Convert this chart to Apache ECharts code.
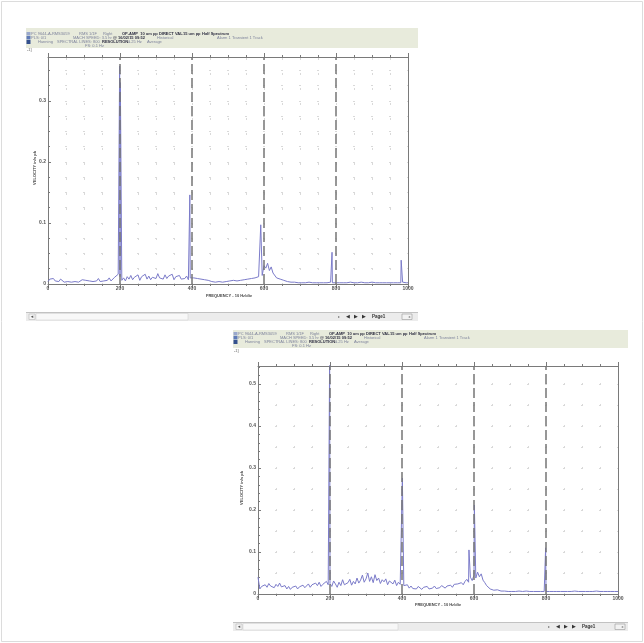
<!DOCTYPE html>
<html><head><meta charset="utf-8">
<script src="https://cdn.jsdelivr.net/npm/echarts@6/dist/echarts.min.js"></script>
<style>html,body{margin:0;padding:0;background:#fff}#c{width:644px;height:643px}</style>
</head><body><div id="c"></div>
<script>
// ---------------- DATA ----------------
const FREQ_STEP = 5; // Hz between noise samples, starting at 0 Hz
const topNoise = [
.004,.008,.006,.009,.005,.007,.004,.008,.006,.003,
.005,.004,.007,.003,.005,.004,.006,.003,.005,.007,
.004,.006,.003,.005,.008,.004,.006,.005,.009,.004,
.007,.005,.008,.006,.010,.005,.008,.011,.009,.016,
.012,
.006,.010,.005,.012,.008,.014,.007,.011,.009,.015,
.006,.012,.010,.016,.008,.013,.007,.011,.014,.009,
.017,.010,.012,.008,.015,.009,.013,.011,.016,.007,
.012,.010,.014,.008,.011,.009,.013,.007,.010,.012,
.010,.007,.009,.006,.008,.005,.007,.004,.006,.005,
.004,.006,.003,.005,.004,.006,.003,.005,.004,.003,
.005,.004,.006,.003,.005,.004,.006,.005,.007,.006,
.008,.006,.009,.007,.010,.008,.012,.009,.014,.030,
.026,.034,.022,.028,.018,.015,.010,.012,.008,.007,
.006,.005,.004,.005,.003,.004,.003,.003,.002,.003,
.002,.003,.002,.002,.003,.002,.002,.003,.002,.002,
.002,.003,.002,.002,.002,.002,.003,.002,.002,.002,
.002,.002,.003,.002,.002,.002,.002,.003,.002,.002,
.002,.002,.002,.003,.002,.002,.002,.002,.002,.003,
.002,.002,.002,.002,.003,.002,.002,.002,.002,.002,
.003,.002,.002,.002,.002,.002,.003,.002,.002,.002
];
const topPeaks = [[199,0.357],[201,0.33],[394,0.146],[591,0.097],[789,0.052],[981,0.039]];

const botNoise = [
.040,.012,.018,.014,.022,.016,.025,.019,.021,.015,
.023,.018,.026,.017,.014,.020,.012,.018,.011,.016,
.013,.019,.012,.017,.014,.021,.015,.019,.024,.016,
.022,.018,.026,.020,.028,.018,.023,.019,.030,.022,
.025,
.018,.031,.024,.016,.028,.020,.034,.022,.019,.027,
.035,.021,.030,.024,.038,.026,.033,.045,.028,.036,
.050,.030,.041,.027,.046,.032,.038,.025,.034,.029,
.036,.022,.031,.027,.024,.033,.020,.028,.023,.026,
.020,.016,.022,.014,.019,.013,.017,.012,.018,.015,
.011,.016,.013,.018,.012,.015,.014,.019,.013,.017,
.015,.020,.016,.014,.019,.017,.021,.016,.023,.019,
.024,.020,.027,.022,.030,.035,.028,.040,.032,.045,
.038,.052,.041,.048,.033,.027,.020,.016,.012,.010,
.009,.008,.010,.008,.007,.008,.007,.007,.006,.007,
.006,.007,.006,.006,.007,.006,.006,.006,.007,.006,
.006,.006,.006,.007,.006,.006,.006,.006,.006,.006,
.006,.006,.007,.006,.006,.006,.006,.006,.007,.006,
.006,.006,.006,.006,.006,.007,.006,.006,.006,.006,
.007,.006,.006,.006,.006,.006,.006,.007,.006,.006,
.006,.006,.006,.006,.007,.006,.006,.006,.006,.006
];
const botPeaks = [[199,0.56],[401,0.276],[586,0.105],[601,0.212],[799,0.11]];

const harmonics = [200,400,600,800];
const xAxisTitle = 'FREQUENCY - 10 Hz/div';
const yAxisTitle = 'VELOCITY in/s pk';
const headerRows = [
  [[5,'PC 9644-A-RMS3059',0],[53,'RMS 1/1F',0],[77,'Right',0],[96,'OP-AMP  10 um pp DIRECT VAL',1],[157,'15 um pp',1],[176,'Half Spectrum',1]],
  [[5,'PLS: 0/1',0],[47,'MACH SPEED: 3.5 hr',0],[87,'@ 16/02/15 09:52',1],[131,'Historical',0],[191,'Alarm 1 Transient 1 Track',0]],
  [[12,'Hanning',0],[31,'SPECTRAL LINES: 800',0],[76,'RESOLUTION:',1],[102,'1.25 Hz',0],[121,'Average',0]],
  [[59,'FS: 0.1 Hz',0]]
];

// ---------------- LAYOUT / STYLE ----------------
const FONT = 'Liberation Sans';
const AX = '#7a7a7a';
const GRIDC = '#d9d9d9';
const TRACE = '#7b7bc9';
const PANELS = [
  {grid:{left:48, top:57, width:360, height:227}, ymax:0.372, yMinor:4, yGridStep:0.025, vDash:[2,13], vOff:14,
   band:{x:26,y:28,w:392,h:20}, rows:[34,38,42,45.5], bracketY:50, sy:312, thumbEnd:188, bx:338, ix:402,
   yTitle:[35,168], xTitle:[229,296]},
  {grid:{left:258, top:366, width:360, height:228}, ymax:0.543, yMinor:5, yGridStep:0.05, vDash:[2,19], vOff:4,
   band:{x:233,y:330,w:395,h:18}, rows:[334,338,342,345.5], bracketY:351, sy:622, thumbEnd:398, bx:548, ix:615,
   yTitle:[242,488], xTitle:[438,605]}
];

function buildSeries(noise, peaks){
  const pts = noise.map((v,i)=>[i*FREQ_STEP, v]);
  return pts.concat(peaks).sort((a,b)=>a[0]-b[0]);
}
const seriesData = [buildSeries(topNoise, topPeaks), buildSeries(botNoise, botPeaks)];

const xAxes = [], yAxes = [], grids = [], series = [], graphics = [];
const lblStyle = {fontSize:5, fontWeight:'bold', color:'#555', fontFamily:FONT};

PANELS.forEach((p,i)=>{
  grids.push(Object.assign({containLabel:false, show:false}, p.grid));
  xAxes.push({gridIndex:i, type:'value', min:0, max:1000, interval:200, position:'bottom',
    axisLine:{show:true, onZero:false, lineStyle:{color:AX, width:1}},
    axisTick:{show:true, length:4, lineStyle:{color:AX}},
    minorTick:{show:true, splitNumber:4, length:2, lineStyle:{color:AX}},
    axisLabel:Object.assign({margin:2, formatter:v=>String(v)}, lblStyle), splitLine:{show:false}});
  xAxes.push({gridIndex:i, type:'value', min:0, max:1000, interval:200, position:'top',
    axisLine:{show:true, onZero:false, lineStyle:{color:AX, width:1}},
    axisTick:{show:true, length:4, lineStyle:{color:AX}},
    minorTick:{show:true, splitNumber:4, length:2, lineStyle:{color:AX}},
    axisLabel:{show:false}, splitLine:{show:false}});
  xAxes.push({gridIndex:i, type:'value', min:0, max:1000, interval:50, position:'bottom',
    axisLine:{show:false}, axisTick:{show:false}, axisLabel:{show:false},
    splitLine:{show:true, lineStyle:{color:GRIDC, width:1, type:p.vDash, dashOffset:p.vOff}}});

  yAxes.push({gridIndex:i, type:'value', min:0, max:p.ymax, interval:0.1, position:'left',
    axisLine:{show:true, onZero:false, lineStyle:{color:AX, width:1}},
    axisTick:{show:true, inside:true, length:3, lineStyle:{color:AX}},
    minorTick:{show:true, splitNumber:p.yMinor, length:2, lineStyle:{color:AX}},
    axisLabel:Object.assign({margin:2, showMaxLabel:false, formatter:v=>v===0?'0':v.toFixed(1)}, lblStyle),
    splitLine:{show:false}});
  yAxes.push({gridIndex:i, type:'value', min:0, max:p.ymax, position:'right',
    axisLine:{show:true, onZero:false, lineStyle:{color:AX, width:1}},
    axisTick:{show:false}, axisLabel:{show:false}, splitLine:{show:false}});
  yAxes.push({gridIndex:i, type:'value', min:0, max:p.ymax, interval:p.yGridStep, position:'left',
    axisLine:{show:false}, axisTick:{show:false}, axisLabel:{show:false},
    splitLine:{show:true, lineStyle:{color:GRIDC, width:1, type:[2,16], dashOffset:1}}});

  series.push({type:'line', xAxisIndex:i*3, yAxisIndex:i*3, data:seriesData[i],
    symbol:'none', showSymbol:false, clip:true, animation:false, z:3,
    lineStyle:{color:TRACE, width:1},
    markLine:{silent:true, animation:false, symbol:['none','none'], label:{show:false},
      lineStyle:{color:'#767676', type:[10,4], width:1.5},
      data:harmonics.map(v=>({xAxis:v}))}});

  // window chrome
  const b = p.band;
  graphics.push({type:'rect', shape:{x:b.x, y:b.y, width:b.w, height:b.h}, style:{fill:'#e8ebdc'}});
  graphics.push({type:'rect', shape:{x:b.x+0.5, y:p.rows[0]-2, width:4, height:3.5}, style:{fill:'#9aa8cc'}});
  graphics.push({type:'rect', shape:{x:b.x+0.5, y:p.rows[1]-2, width:4, height:3.5}, style:{fill:'#5f7ab8'}});
  graphics.push({type:'rect', shape:{x:b.x+0.5, y:p.rows[2]-2, width:4, height:4}, style:{fill:'#34508e'}});
  headerRows.forEach((row,r)=>row.forEach(seg=>{
    graphics.push({type:'text', x:b.x+seg[0], y:p.rows[r], style:{text:seg[1], fontSize:4, fontFamily:FONT,
      fontWeight:seg[2]?'bold':'normal', fill:seg[2]?'#2e2e42':'#7e839c', verticalAlign:'middle'}});
  }));
  graphics.push({type:'text', x:b.x+1, y:p.bracketY, style:{text:'-1]', fontSize:4, fontFamily:FONT, fill:'#666', verticalAlign:'middle'}});
  graphics.push({type:'text', x:p.yTitle[0], y:p.yTitle[1], rotation:Math.PI/2,
    style:{text:yAxisTitle, fontSize:4, fontWeight:'bold', fontFamily:FONT, fill:'#444', align:'center', verticalAlign:'middle'}});
  graphics.push({type:'text', x:p.xTitle[0], y:p.xTitle[1],
    style:{text:xAxisTitle, fontSize:4, fontWeight:'bold', fontFamily:FONT, fill:'#444', align:'center', verticalAlign:'middle'}});
  // scroll bar row
  graphics.push({type:'rect', shape:{x:b.x, y:p.sy, width:b.w, height:9}, style:{fill:'#ececec'}});
  graphics.push({type:'line', shape:{x1:b.x, y1:p.sy+0.5, x2:b.x+b.w, y2:p.sy+0.5}, style:{stroke:'#c2c2c2', lineWidth:1}});
  graphics.push({type:'rect', shape:{x:b.x+10, y:p.sy+1.5, width:p.thumbEnd-(b.x+10), height:6.5}, style:{fill:'#f8f8f8', stroke:'#d4d4d4', lineWidth:0.6}});
  graphics.push({type:'rect', shape:{x:b.x+3, y:p.sy+2, width:6, height:5.5}, style:{fill:'#f6f6f6', stroke:'#bbb', lineWidth:0.6}});
  graphics.push({type:'text', x:b.x+6, y:p.sy+4.8, style:{text:'\u25C2', fontSize:5, fill:'#555', align:'center', verticalAlign:'middle', fontFamily:'DejaVu Sans'}});
  const btn = ['\u25B8','\u25C0','\u25B6','\u25B6'];
  btn.forEach((t,k)=>graphics.push({type:'text', x:p.bx+k*8, y:p.sy+4.8,
    style:{text:t, fontSize:k===0?4:5, fill:k===0?'#777':'#333', verticalAlign:'middle', fontFamily:'DejaVu Sans'}}));
  graphics.push({type:'text', x:p.bx+34, y:p.sy+4.8, style:{text:'Page1', fontSize:4.5, fontWeight:'bold', fill:'#333', verticalAlign:'middle', fontFamily:FONT}});
  graphics.push({type:'rect', shape:{x:p.ix, y:p.sy+2, width:10, height:5.5}, style:{fill:'#f2f2f2', stroke:'#999', lineWidth:0.6}});
  graphics.push({type:'text', x:p.ix+7.5, y:p.sy+4.8, style:{text:'x', fontSize:4, fill:'#555', align:'center', verticalAlign:'middle', fontFamily:FONT}});
});
graphics.push({type:'rect', z:-1, shape:{x:1.5, y:1.5, width:641, height:640}, style:{fill:'none', stroke:'#dcdcdc', lineWidth:1}});

const chart = echarts.init(document.getElementById('c'), null, {renderer:'canvas'});
chart.setOption({
  animation:false,
  backgroundColor:'#fff',
  grid:grids, xAxis:xAxes, yAxis:yAxes, series:series,
  graphic:{elements:graphics}
});
</script>
</body></html>
